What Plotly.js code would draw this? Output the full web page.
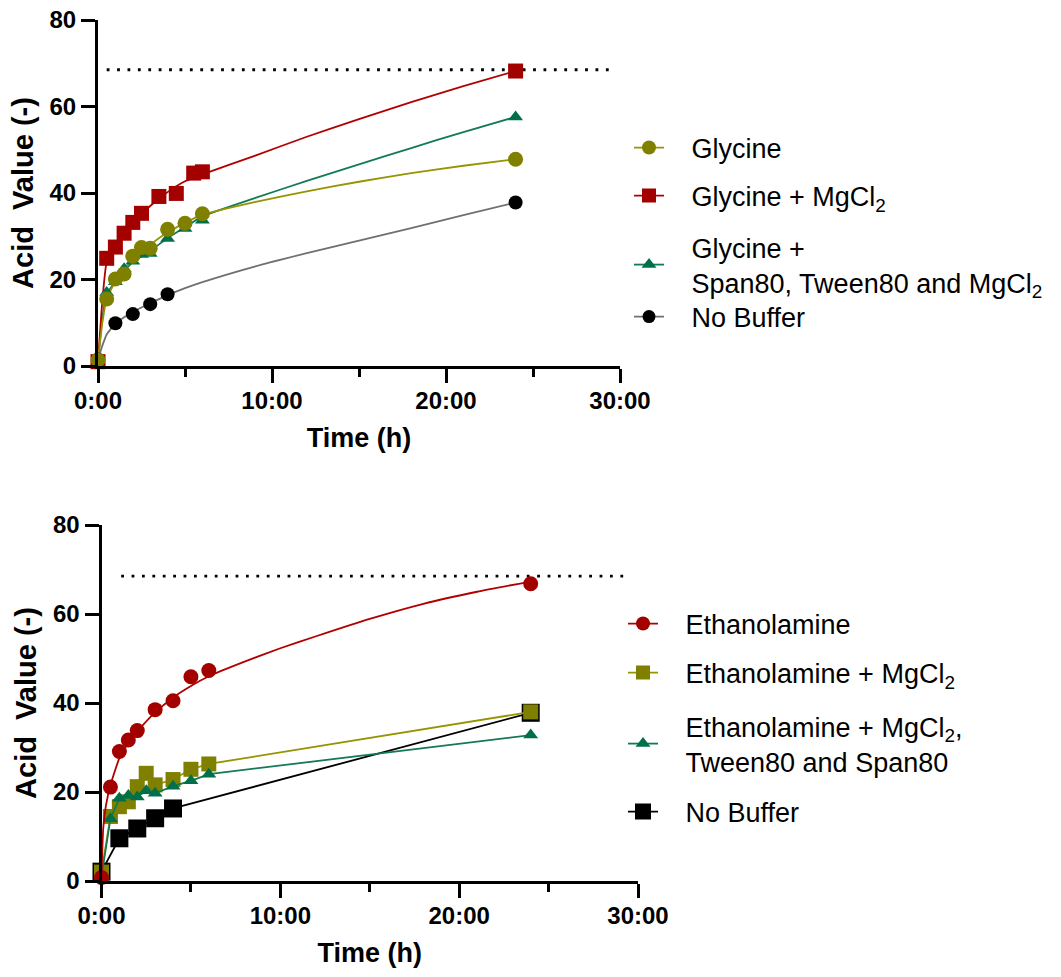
<!DOCTYPE html>
<html>
<head>
<meta charset="utf-8">
<script src="https://cdn.plot.ly/plotly-3.0.1.min.js"></script>
<style>html,body{margin:0;padding:0;background:#fff;}#chart{width:1061px;height:977px;}</style>
</head>
<body>
<div id="chart"></div>
<script>
// ---------- Top panel: Glycine ----------
const timeG = [0, 0.5, 1, 1.5, 2, 2.5, 3, 4, 5, 6, 24];
const glycine = [1.4, 15.5, 20.1, 21.3, 25.4, 27.4, 27.2, 31.6, 33.0, 35.2, 47.8];
const timeGM = [0, 0.5, 1, 1.5, 2, 2.5, 3.5, 4.5, 5.5, 6, 24];
const glycineMg = [1.0, 24.9, 27.5, 30.7, 33.2, 35.3, 39.2, 39.9, 44.6, 44.9, 68.2];
const timeGS = [0, 0.5, 1, 1.5, 2, 2.5, 3, 4, 5, 6, 24];
const glycineSpan = [1.0, 17.0, 19.5, 22.5, 24.2, 25.8, 26.0, 29.5, 31.8, 33.7, 57.6];
const timeNB = [0, 1, 2, 3, 4, 24];
const noBufferTop = [1.5, 9.9, 12.0, 14.3, 16.6, 37.8];

// fitted curves of the top panel
const fitT = [0, 0.25, 0.5, 1, 1.5, 2, 3, 4, 5, 6, 9, 12, 15, 18, 21, 24];
const fitGlycine = [1.4, 10, 15.5, 19.6, 22.3, 24.6, 28.0, 30.9, 33.1, 35.0, 37.9, 40.4, 42.6, 44.6, 46.3, 47.8];
const fitGlycineMg = [1.0, 15, 24.0, 27.6, 30.6, 33.0, 37.0, 40.2, 42.7, 44.3, 48.6, 53.0, 57.1, 61.0, 64.7, 68.2];
const fitGlycineSpan = [1.0, 11, 16.5, 19.6, 22.0, 24.0, 26.6, 29.6, 32.1, 34.6, 38.8, 42.8, 46.6, 50.4, 54.1, 57.6];
const fitNoBufferTop = [1.5, 4.7, 7.3, 9.8, 11.3, 12.5, 14.5, 16.4, 18.0, 19.4, 23.0, 26.1, 29.0, 31.9, 34.9, 37.8];

// ---------- Bottom panel: Ethanolamine ----------
const timeE = [0, 0.5, 1, 1.5, 2, 3, 4, 5, 6, 24];
const ethanolamine = [0.8, 21.1, 29.1, 31.7, 33.8, 38.5, 40.5, 45.9, 47.3, 66.8];
const timeEM = [0, 0.5, 1, 1.5, 2, 2.5, 3, 4, 5, 6, 24];
const ethanolMg = [2.0, 14.5, 16.7, 17.8, 21.2, 24.2, 21.6, 22.8, 25.1, 26.3, 38.0];
const ethanolSpan = [1.0, 14.0, 18.6, 19.2, 18.9, 20.3, 19.7, 21.3, 22.5, 24.0, 32.8];
const timeNB2 = [0, 1, 2, 3, 4, 24];
const noBufferBottom = [2.1, 9.6, 11.8, 14.1, 16.3, 37.8];

const fitT2 = [0, 0.1, 0.25, 0.5, 1, 1.5, 2, 3, 4, 5, 6, 8, 10, 12, 15, 18, 21, 24];
const fitEthanol = [0.8, 12, 17, 21.5, 27.6, 31.0, 33.6, 37.9, 41.2, 43.8, 46.0, 49.3, 52.3, 55.0, 58.9, 62.3, 65.0, 67.3];

// reference (maximum) level, dotted
const refLevel = [68.5, 68.5];
const refSpanTop = [0.5, 29.5];
const refSpanBottom = [1.1, 29.5];

// axis ticks
const xTickVals = [0, 10, 20, 30];
const xTickText = ["0:00", "10:00", "20:00", "30:00"];
const xMinorVals = [5, 15, 25];
const yTickVals = [0, 20, 40, 60, 80];

// legend labels
const labelsTop = ["Glycine", "Glycine + MgCl<sub>2</sub>", "Glycine +<br>Span80, Tween80 and MgCl<sub>2</sub>", "No Buffer"];
const labelsBottom = ["Ethanolamine", "Ethanolamine + MgCl<sub>2</sub>", "Ethanolamine + MgCl<sub>2</sub>,<br>Tween80 and Span80", "No Buffer"];

const FONT = "Liberation Sans, Arial, Helvetica, sans-serif";
const RED = "#A30000", RED_L = "#B10000";
const OLIVE = "#808000", OLIVE_L = "#969400";
const GREEN = "#00704A", GREEN_L = "#137A55";
const BLACK = "#000000", GREY_L = "#707070";
const PAD = "\u00a0\u00a0\u00a0";

const traces = [];
function fitLine(x, y, color, xa, ya) {
  traces.push({x: x, y: y, xaxis: xa, yaxis: ya, mode: "lines", type: "scatter",
    line: {color: color, width: 1.8, shape: "spline", smoothing: 0.5}, showlegend: false, hoverinfo: "skip", cliponaxis: false});
}
function markers(x, y, color, symbol, size, xa, ya, withLine, lineColor) {
  traces.push({x: x, y: y, xaxis: xa, yaxis: ya, mode: withLine ? "lines+markers" : "markers", type: "scatter",
    marker: {color: color, symbol: symbol, size: size, line: {width: 0}},
    line: {color: lineColor || color, width: 1.8}, showlegend: false, cliponaxis: false});
}
function legendEntry(name, color, lineColor, symbol, size, legendId) {
  const padded = PAD + name.split("<br>").join("<br>" + PAD);
  traces.push({x: [null], y: [null], xaxis: "x", yaxis: "y", mode: "lines+markers", type: "scatter",
    name: padded, legend: legendId, marker: {color: color, symbol: symbol, size: size},
    line: {color: lineColor, width: 1.8}, showlegend: true, hoverinfo: "skip"});
}

// dotted reference lines
traces.push({x: refSpanTop, y: refLevel, xaxis: "x", yaxis: "y", mode: "lines",
  line: {color: "black", width: 2.8, dash: "2.8px,7.6px"}, showlegend: false, hoverinfo: "skip", cliponaxis: false});
traces.push({x: refSpanBottom, y: refLevel, xaxis: "x2", yaxis: "y2", mode: "lines",
  line: {color: "black", width: 2.8, dash: "2.8px,7.6px"}, showlegend: false, hoverinfo: "skip", cliponaxis: false});

// top panel
fitLine(fitT, fitNoBufferTop, GREY_L, "x", "y");
fitLine(fitT, fitGlycineSpan, GREEN_L, "x", "y");
fitLine(fitT, fitGlycineMg, RED_L, "x", "y");
fitLine(fitT, fitGlycine, OLIVE_L, "x", "y");
markers(timeNB, noBufferTop, BLACK, "circle", 14, "x", "y");
markers(timeGS, glycineSpan, GREEN, "triangle-up", 13, "x", "y");
markers(timeGM, glycineMg, RED, "square", 15, "x", "y");
markers(timeG, glycine, OLIVE, "circle", 15, "x", "y");

// bottom panel
markers(timeNB2, noBufferBottom, BLACK, "square", 18, "x2", "y2", true, BLACK);
markers(timeEM, ethanolMg, OLIVE, "square", 15, "x2", "y2", true, OLIVE_L);
markers(timeEM, ethanolSpan, GREEN, "triangle-up", 13, "x2", "y2", true, GREEN_L);
fitLine(fitT2, fitEthanol, RED_L, "x2", "y2");
markers(timeE, ethanolamine, RED, "circle", 15, "x2", "y2");

// legend entries
legendEntry(labelsTop[0], OLIVE, OLIVE_L, "circle", 14, "legend");
legendEntry(labelsTop[1], RED, RED_L, "square", 14, "legend2");
legendEntry(labelsTop[2], GREEN, GREEN_L, "triangle-up", 13, "legend3");
legendEntry(labelsTop[3], BLACK, GREY_L, "circle", 13, "legend4");
legendEntry(labelsBottom[0], RED, RED_L, "circle", 14, "legend5");
legendEntry(labelsBottom[1], OLIVE, OLIVE_L, "square", 14, "legend6");
legendEntry(labelsBottom[2], GREEN, GREEN_L, "triangle-up", 13, "legend7");
legendEntry(labelsBottom[3], BLACK, BLACK, "square", 16, "legend8");

const W = 1061, H = 977;
function px2x(p) { return p / W; }
function py2y(p) { return 1 - p / H; }

function xAxis(domain, anchor) {
  return {domain: domain, anchor: anchor, range: [0, 30], showline: true, linewidth: 3, linecolor: "black",
    ticks: "outside", ticklen: 14, tickwidth: 3, tickcolor: "black", ticklabelstandoff: -3,
    tickmode: "array", tickvals: xTickVals, ticktext: xTickText,
    minor: {tickmode: "array", tickvals: xMinorVals, ticks: "outside", ticklen: 8, tickwidth: 3, tickcolor: "black", showgrid: false},
    tickfont: {family: FONT, size: 24, weight: "bold", color: "black"},
    showgrid: false, zeroline: false, fixedrange: true,
    title: {text: "Time (h)", font: {family: FONT, size: 27, weight: "bold", color: "black"}, standoff: 16}};
}
function yAxis(domain, anchor) {
  return {domain: domain, anchor: anchor, range: [0, 80], showline: true, linewidth: 3, linecolor: "black",
    ticks: "outside", ticklen: 14, tickwidth: 3, tickcolor: "black",
    tickmode: "array", tickvals: yTickVals,
    tickfont: {family: FONT, size: 24, weight: "bold", color: "black"},
    showgrid: false, zeroline: false, fixedrange: true,
    title: {text: "Acid\u00a0\u00a0Value (-)", font: {family: FONT, size: 29, weight: "bold", color: "black"}, standoff: 8}};
}

function leg(xp, yp) {
  return {x: px2x(xp), y: py2y(yp), xanchor: "left", yanchor: "middle", bgcolor: "rgba(0,0,0,0)",
    borderwidth: 0, itemwidth: 30, valign: "middle",
    font: {family: FONT, size: 27, color: "black"}, itemclick: false, itemdoubleclick: false};
}

const layout = {
  width: W, height: H,
  margin: {l: 0, r: 0, t: 0, b: 0},
  paper_bgcolor: "white", plot_bgcolor: "white",
  showlegend: true,
  xaxis: xAxis([px2x(98), px2x(620)], "y"),
  yaxis: yAxis([py2y(366), py2y(20)], "x"),
  xaxis2: xAxis([px2x(101.5), px2x(638)], "y2"),
  yaxis2: yAxis([py2y(881), py2y(525)], "x2"),
  legend: leg(629, 148),
  legend2: leg(629, 196),
  legend3: leg(629, 265),
  legend4: leg(629, 317),
  legend5: leg(623, 624),
  legend6: leg(623, 673),
  legend7: leg(623, 744),
  legend8: leg(623, 812)
};

Plotly.newPlot("chart", traces, layout, {displayModeBar: false, staticPlot: true}).then(function (gd) {
  // drop empty placeholder text nodes (e.g. unused legend titles)
  gd.querySelectorAll("svg text").forEach(function (t) {
    if (!t.textContent || !t.textContent.trim()) t.parentNode.removeChild(t);
  });
});
</script>
</body>
</html>
